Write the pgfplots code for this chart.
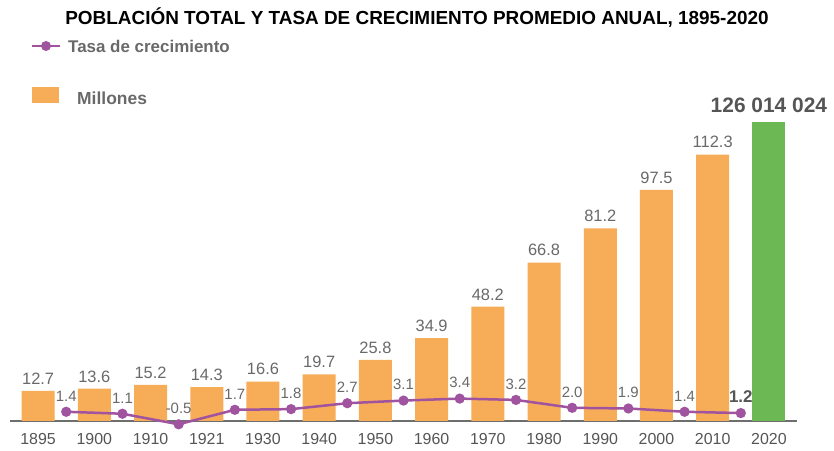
\documentclass[border=0pt]{standalone}
\usepackage{pgfplots}
\pgfplotsset{compat=1.18}
\usepackage{fontspec}
\setmainfont{Liberation Sans}
\definecolor{barorange}{RGB}{247,172,88}
\definecolor{bargreen}{RGB}{108,184,84}
\definecolor{linepurple}{RGB}{160,84,160}
\definecolor{txtgray}{RGB}{85,85,85}
\definecolor{lblgray}{RGB}{105,105,105}
\definecolor{axgray}{RGB}{110,110,110}
\begin{document}
\begin{tikzpicture}[x=1bp,y=1bp]
\path[use as bounding box] (0,0) rectangle (834,451);
\node[font=\bfseries\fontsize{19}{22}\selectfont, text=black] at (417,433) {POBLACIÓN TOTAL Y TASA DE CRECIMIENTO PROMEDIO ANUAL, 1895-2020};
% legend
\draw[linepurple, line width=2.8bp] (32,405) -- (60,405);
\fill[linepurple] (46,405) circle (5bp);
\node[anchor=west, font=\bfseries\fontsize{17}{19}\selectfont, text=lblgray, inner sep=0pt] at (68,405) {Tasa de crecimiento};
\fill[barorange] (32,348) rectangle (59,364);
\node[anchor=west, font=\bfseries\fontsize{17.5}{19}\selectfont, text=lblgray, inner sep=0pt] at (77,353) {Millones};

\begin{axis}[at={(10bp,30bp)}, anchor=south west, scale only axis,
  width=787bp, height=332bp, xmin=-0.5, xmax=13.5, ymin=0, ymax=140,
  axis x line*=bottom, axis y line=none,
  axis line style={draw=axgray, line width=1.6bp, -},
  xtick={0,...,13},
  xticklabels={1895,1900,1910,1921,1930,1940,1950,1960,1970,1980,1990,2000,2010,2020},
  major tick length=0pt, ytick=\empty,
  xticklabel style={font=\fontsize{16}{18}\selectfont, text=txtgray, yshift=-9bp},
  ybar, bar width=33bp, bar shift=0pt, clip=false,
  nodes near coords, point meta=explicit symbolic,
  every node near coord/.style={font=\fontsize{16.5}{18}\selectfont, text=lblgray, anchor=south, yshift=3bp}]
\addplot[draw=none, fill=barorange] coordinates {
 (0,12.7)[12.7] (1,13.6)[13.6] (2,15.2)[15.2] (3,14.3)[14.3] (4,16.6)[16.6]
 (5,19.7)[19.7] (6,25.8)[25.8] (7,34.9)[34.9] (8,48.2)[48.2] (9,66.8)[66.8]
 (10,81.2)[81.2] (11,97.5)[97.5] (12,112.3)[112.3]};
\addplot[draw=none, fill=bargreen, every node near coord/.style={font=\bfseries\fontsize{21}{24}\selectfont, text=txtgray, anchor=south, yshift=6bp}] coordinates {
 (13,126.014024)[126 014 024]};
\end{axis}

\begin{axis}[at={(10bp,30bp)}, anchor=south west, scale only axis,
  width=787bp, height=332bp, xmin=-0.5, xmax=13.5, ymin=0, ymax=50.4,
  hide axis, clip=false,
  nodes near coords, point meta=explicit symbolic,
  every node near coord/.style={font=\fontsize{15}{18}\selectfont, text=lblgray, anchor=south, yshift=6bp}]
\addplot[linepurple, line width=2.5bp, mark=*, mark size=3.8bp, mark options={fill=linepurple, draw=linepurple}] coordinates {
 (0.5,1.4)[1.4] (1.5,1.1)[1.1] (2.5,-0.5)[-0.5] (3.5,1.7)[1.7] (4.5,1.8)[1.8]
 (5.5,2.7)[2.7] (6.5,3.1)[3.1] (7.5,3.4)[3.4] (8.5,3.2)[3.2] (9.5,2.0)[2.0]
 (10.5,1.9)[1.9] (11.5,1.4)[1.4] (12.5,1.2)[{\bfseries\fontsize{17}{19}\selectfont\color{txtgray}1.2}]};
\end{axis}
\end{tikzpicture}
\end{document}
